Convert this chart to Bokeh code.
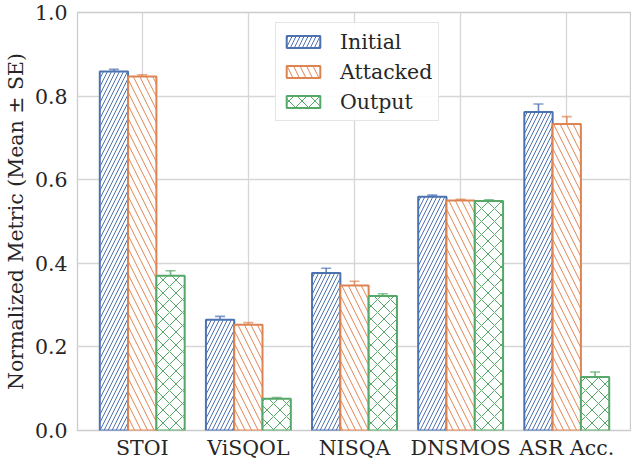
import numpy as np
from bokeh.plotting import figure
from bokeh.models import (Range1d, FixedTicker, ColumnDataSource, Whisker, TeeHead,
                          Legend, LegendItem, PrintfTickFormatter)
from bokeh.embed import file_html
from bokeh.resources import INLINE

# ---- data ----
categories = ["STOI", "ViSQOL", "NISQA", "DNSMOS", "ASR Acc."]
series_names = ["Initial", "Attacked", "Output"]
initial = [0.859, 0.265, 0.377, 0.559, 0.762]
initial_se = [0.005, 0.008, 0.011, 0.004, 0.019]
attacked = [0.847, 0.253, 0.347, 0.550, 0.733]
attacked_se = [0.004, 0.005, 0.010, 0.003, 0.018]
output = [0.370, 0.076, 0.322, 0.549, 0.128]
output_se = [0.012, 0.003, 0.005, 0.003, 0.012]
y_ticks = [0.0, 0.2, 0.4, 0.6, 0.8, 1.0]

colors = ["#4c72b0", "#dd8452", "#55a868"]
hatches = ["/", "\\", "x"]
hatch_scales = [8, 13, 13]
FONT = "DejaVu Serif"
FS = "20.5px"
TXT = "#262626"
GRID = "#d6d6d6"

p = figure(width=631, height=462, output_backend="svg", toolbar_location=None,
           x_range=Range1d(-0.61, 4.61), y_range=Range1d(0, 1.0),
           min_border_left=69, min_border_right=0, min_border_top=12, min_border_bottom=27)
p.outline_line_color = "#cccccc"
p.outline_line_width = 1.3
p.background_fill_color = "white"

idx = np.arange(len(categories))
bw = 0.8 / 3
series = [(initial, initial_se), (attacked, attacked_se), (output, output_se)]
renderers = []
for k, ((vals, se), c, h, hs) in enumerate(zip(series, colors, hatches, hatch_scales)):
    xs = idx + (k - 1) * bw
    vals = np.array(vals)
    se = np.array(se)
    src = ColumnDataSource(dict(x=xs, top=vals, upper=vals + se, lower=vals - se))
    r = p.vbar(x="x", top="top", width=bw, source=src, fill_color="white",
               line_color=c, line_width=2, hatch_pattern=h, hatch_color=c,
               hatch_scale=hs, hatch_weight=1.0)
    renderers.append(r)
    w = Whisker(base="x", upper="upper", lower="lower", source=src,
                line_color=c, line_width=1.6, line_alpha=0.85,
                upper_head=TeeHead(size=10, line_color=c, line_width=1.6, line_alpha=0.7),
                lower_head=TeeHead(size=10, line_color=c, line_width=1.6, line_alpha=0.7))
    p.add_layout(w)

# axes
p.xaxis.ticker = FixedTicker(ticks=list(idx))
p.xaxis.major_label_overrides = {int(i): c for i, c in zip(idx, categories)}
p.yaxis.ticker = FixedTicker(ticks=y_ticks)
p.yaxis.formatter = PrintfTickFormatter(format="%.1f")
for ax in (p.xaxis, p.yaxis):
    ax.axis_line_color = None
    ax.major_tick_line_color = None
    ax.minor_tick_line_color = None
    ax.major_tick_out = 0
    ax.major_tick_in = 0
    ax.minor_tick_out = 0
    ax.minor_tick_in = 0
    ax.major_label_text_font = FONT
    ax.major_label_text_font_size = FS
    ax.major_label_text_color = TXT
p.xaxis.major_label_standoff = 5
p.yaxis.major_label_standoff = 10
p.yaxis.axis_label = "Normalized Metric (Mean \u00b1 SE)"
p.yaxis.axis_label_text_font = FONT
p.yaxis.axis_label_text_font_size = FS
p.yaxis.axis_label_text_font_style = "normal"
p.yaxis.axis_label_text_color = TXT
p.yaxis.axis_label_standoff = 4

p.xgrid.ticker = FixedTicker(ticks=list(idx))
p.ygrid.ticker = FixedTicker(ticks=y_ticks)
for g in (p.xgrid, p.ygrid):
    g.grid_line_color = GRID
    g.grid_line_width = 1.3
    g.level = "underlay"

legend = Legend(items=[LegendItem(label=n, renderers=[r]) for n, r in zip(series_names, renderers)],
                location=(198, 309), label_text_font=FONT, label_text_font_size=FS,
                label_text_color=TXT, glyph_width=42, glyph_height=15, label_standoff=16,
                label_height=25, spacing=5, padding=6, margin=0,
                border_line_color="#cccccc", border_line_width=1.2,
                background_fill_color="white", background_fill_alpha=0.9)
p.add_layout(legend)

open("out.html", "w").write(file_html(p, INLINE))
